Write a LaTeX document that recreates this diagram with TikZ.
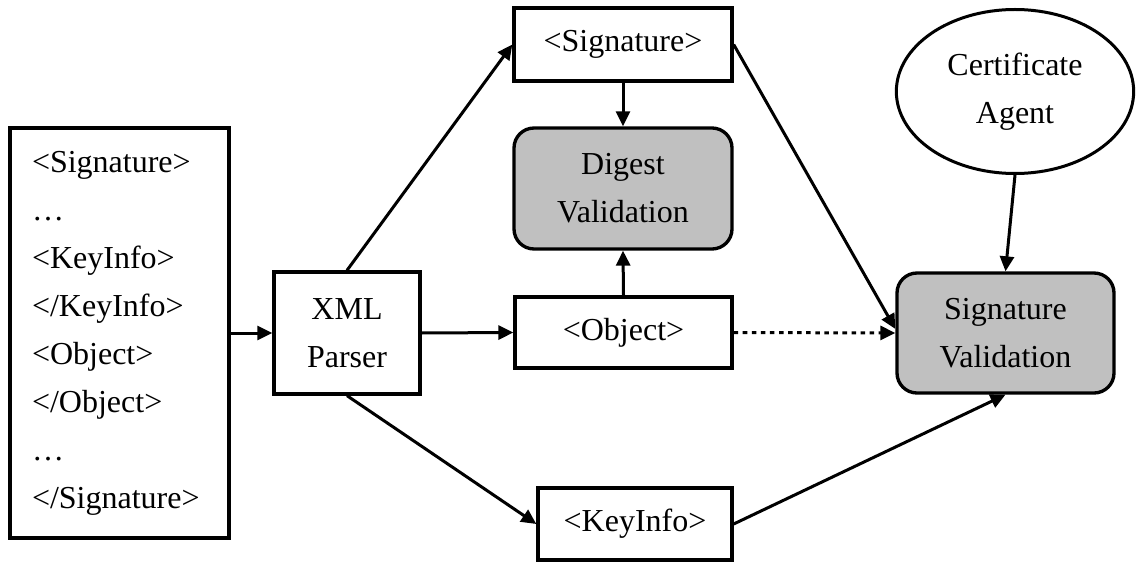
\documentclass[tikz,border=0pt]{standalone}
\usepackage{fontspec}
\setmainfont{Liberation Serif}
\usetikzlibrary{arrows.meta,shapes.geometric,calc}
\definecolor{fillgray}{RGB}{192,192,192}
\begin{document}
\begin{tikzpicture}[x=0.75pt,y=-0.75pt,
  every node/.style={font=\fontsize{24}{36}\selectfont, align=center, inner sep=0pt},
  box/.style={draw, line width=2.5pt, rectangle},
  greybox/.style={box, fill=fillgray, rounded corners=15pt},
  conn/.style={line width=2.25pt, -{Triangle[length=11.25pt,width=10.5pt]}},
  dotline/.style={conn, dash pattern=on 3.4pt off 3.4pt}]
\useasboundingbox (0,0) rectangle (1138,563);

\node[box, minimum width=164.25pt, minimum height=307.5pt, text width=131.25pt, inner xsep=16.5pt, align=left] (doc) at (119.5,333)
  {<Signature>\\…\\<KeyInfo>\\</KeyInfo>\\<Object>\\</Object>\\…\\</Signature>};
\node[box, minimum width=109.5pt, minimum height=91.5pt] (xml) at (347,333) {XML\\Parser};
\node[box, minimum width=163.5pt, minimum height=54.75pt] (sig) at (623,44.5) {<Signature>};
\node[greybox, minimum width=163.5pt, minimum height=90.75pt] (dig) at (623,188.5) {Digest\\Validation};
\node[box, minimum width=162.75pt, minimum height=53.25pt] (obj) at (623.5,332.5) {<Object>};
\node[box, minimum width=145.5pt, minimum height=54pt] (ki) at (635,524) {<KeyInfo>};
\node[greybox, minimum width=162.75pt, minimum height=90pt] (sv) at (1005.5,333) {Signature\\Validation};
\node[draw, ellipse, line width=2.25pt, minimum width=178pt, minimum height=123pt] (ca) at (1015,91.5) {Certificate\\Agent};

\draw[conn] (doc.east) -- (xml.west);
\draw[conn] (xml.north) -- (sig.west);
\draw[conn] (xml.east) -- (obj.west);
\draw[conn] (xml.south) -- (ki.west);
\draw[conn] (sig.south) -- (dig.north);
\draw[conn] (obj.north) -- (dig.south);
\draw[conn] (sig.east) -- ($(sv.west)+(0,-4)$);
\draw[dotline] (obj.east) -- (sv.west);
\draw[conn] (ki.east) -- (sv.south);
\draw[conn] (ca.south) -- (sv.north);
\end{tikzpicture}
\end{document}
